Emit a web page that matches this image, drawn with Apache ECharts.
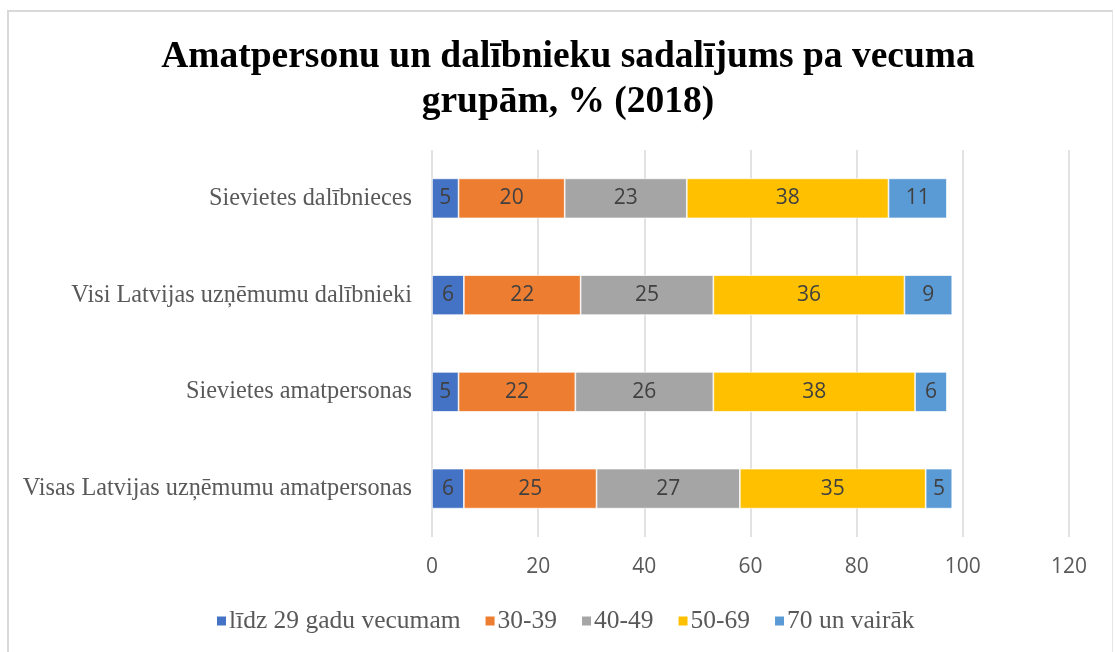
<!DOCTYPE html>
<html>
<head>
<meta charset="utf-8">
<script src="https://cdn.jsdelivr.net/npm/echarts@6/dist/echarts.min.js"></script>
<style>
html,body{margin:0;padding:0;background:#fff;}
#frame{position:absolute;left:7px;top:10px;width:1106px;height:660px;border:2px solid #d9d9d9;border-right:1px solid #e6e6e6;box-sizing:border-box;}
#chart{position:absolute;left:0;top:0;width:1115px;height:652px;}
</style>
</head>
<body>
<div id="frame"></div>
<div id="chart"></div>
<script>
const categories = ['Visas Latvijas uzņēmumu amatpersonas','Sievietes amatpersonas','Visi Latvijas uzņēmumu dalībnieki','Sievietes dalībnieces'];
const seriesNames = ['līdz 29 gadu vecumam','30-39','40-49','50-69','70 un vairāk'];
const s1 = [6,5,6,5];
const s2 = [25,22,22,20];
const s3 = [27,26,25,23];
const s4 = [35,38,36,38];
const s5 = [5,6,9,11];
const xTicks = [0,20,40,60,80,100,120];
const colors = ['#4472C4','#ED7D31','#A5A5A5','#FFC000','#5B9BD5'];
const values = [s1,s2,s3,s4,s5];

const chart = echarts.init(document.getElementById('chart'), null, {renderer:'canvas'});
chart.setOption({
  animation:false,
  title:{
    text:'Amatpersonu un dalībnieku sadalījums pa vecuma\ngrupām, % (2018)',
    left:563, top:30, textAlign:'center',
    textStyle:{fontFamily:'Liberation Serif',fontWeight:'bold',fontSize:37.5,color:'#000',lineHeight:45}
  },
  legend:{
    data:seriesNames, bottom:13, left:210,
    itemWidth:11,itemHeight:11,itemGap:23,icon:'rect',
    textStyle:{fontFamily:'Liberation Serif',fontSize:25.5,color:'#595959',padding:[0,0,0,-3]}
  },
  grid:{left:432,right:46,top:150,bottom:115,containLabel:false},
  xAxis:{
    type:'value',min:0,max:120,interval:20,
    axisLine:{show:false},axisTick:{show:false},
    axisLabel:{fontFamily:'Open Sans',fontSize:21,color:'#595959',margin:20,
      formatter:v=>xTicks.includes(v)?String(v):''},
    splitLine:{lineStyle:{color:'#d9d9d9',width:1.5}}
  },
  yAxis:{
    type:'category',data:categories,
    axisLine:{show:false},axisTick:{show:false},
    axisLabel:{fontFamily:'Liberation Serif',fontSize:24.3,color:'#595959',margin:20}
  },
  series: seriesNames.map((n,i)=>({
    name:n,type:'bar',stack:'total',data:values[i],
    barWidth:40,
    itemStyle:{color:colors[i],borderColor:'#fff',borderWidth:0.7},
    label:{show:true,position:'inside',fontFamily:'Open Sans',fontSize:21,color:'#404040'}
  }))
});
</script>
</body>
</html>
